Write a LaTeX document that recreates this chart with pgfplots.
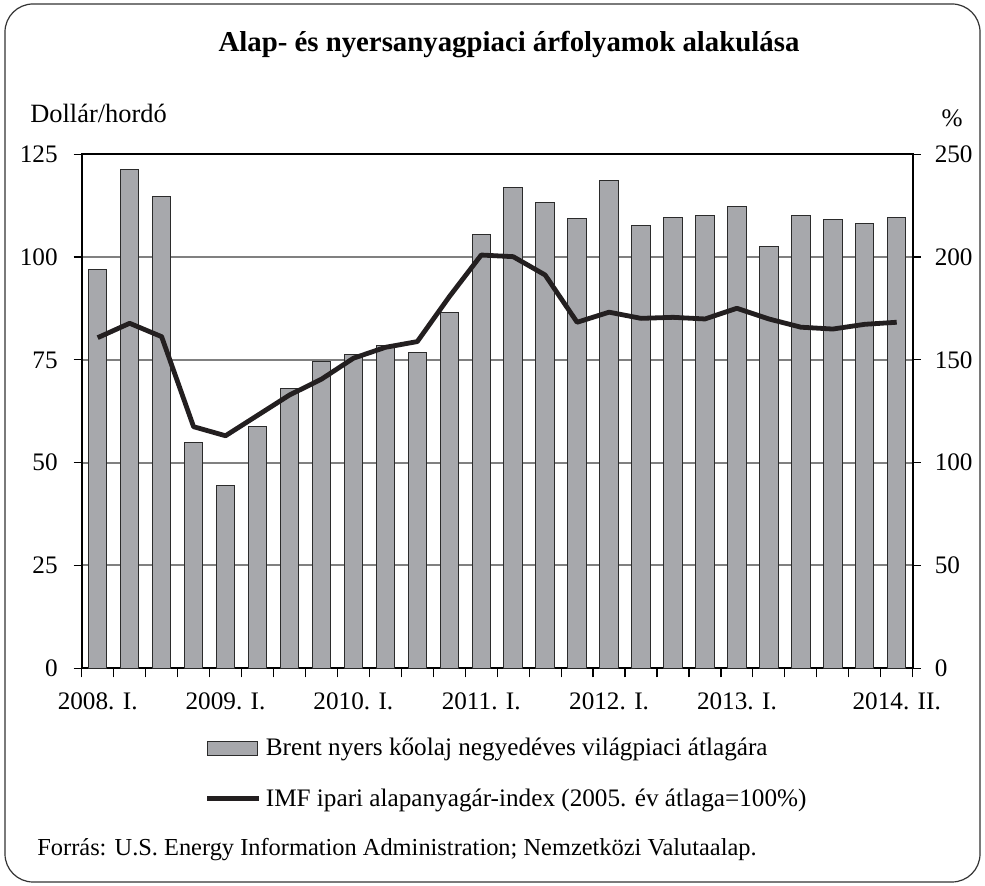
\documentclass[border=0pt]{standalone}
\usepackage{pgfplots}
\pgfplotsset{compat=1.18}
\usepackage{fontspec}
\setmainfont{Liberation Serif}
\definecolor{barfill}{HTML}{A7A8AC}
\definecolor{bardraw}{HTML}{2B2B2B}
\definecolor{linec}{HTML}{231F20}
\definecolor{gridc}{HTML}{808080}
\pgfplotsset{
  barleg/.style={legend image code/.code={\draw[##1] (0pt,-3.5pt) rectangle (25pt,3.5pt);}},
  lineleg/.style={legend image code/.code={\draw[##1] (0pt,0pt) -- (26pt,0pt);}},
}
\pgfplotstableread{
i brent imf
0 96.9 160.8
1 121.3 167.8
2 114.7 161.3
3 54.9 117.5
4 44.4 113.1
5 58.8 123.0
6 68.1 132.9
7 74.5 140.6
8 76.4 150.8
9 78.4 156.1
10 76.8 158.9
11 86.6 180.7
12 105.4 201.0
13 117.0 200.2
14 113.3 191.3
15 109.3 168.3
16 118.7 173.2
17 107.7 170.2
18 109.6 170.7
19 110.2 169.9
20 112.4 175.1
21 102.5 169.9
22 110.2 165.9
23 109.2 165.0
24 108.1 167.3
25 109.7 168.3
}\datatable
\begin{document}
\begin{tikzpicture}
\useasboundingbox (0pt,0pt) rectangle (492.5pt,443pt);
\draw[line width=0.6pt, draw=black!80, rounded corners=14pt] (2.5pt,2pt) rectangle (490pt,441pt);
\node[font=\fontsize{14.4}{16}\selectfont\bfseries] at (254.5pt,420.5pt) {Alap- és nyersanyagpiaci árfolyamok alakulása};
\node[anchor=west, font=\fontsize{13.2}{15}\selectfont, inner sep=0pt] at (15pt,386.5pt) {Dollár/hordó};
\node[anchor=center, font=\fontsize{12.6}{14}\selectfont, inner sep=0pt] at (476pt,384pt) {\%};
\node[anchor=west, font=\fontsize{12.2}{14}\selectfont, inner sep=0pt] at (18.5pt,18pt) {Forrás: U.S. Energy Information Administration; Nemzetközi Valutaalap.};
\begin{axis}[
  at={(40.85pt,108.85pt)}, anchor=south west,
  scale only axis, width=415.5pt, height=257pt,
  xmin=-0.5, xmax=25.5, ymin=0, ymax=125,
  ytick={0,25,...,125},
  ytick pos=left, xtick pos=bottom,
  xtick={0,4,8,12,16,20,25},
  xticklabels={2008. I.,2009. I.,2010. I.,2011. I.,2012. I.,2013. I.,2014. II.},
  major x tick style={draw=none},
  minor xtick={-0.5,0.5,...,25.5},
  minor tick length=4.5pt,
  major tick length=4pt,
  tick align=outside,
  tick style={black, line width=0.6pt},
  ymajorgrids, grid style={gridc, line width=1pt},
  axis line style={black, line width=1pt},
  tick label style={font=\fontsize{12.6}{14}\selectfont},
  /pgf/number format/assume math mode=true,
  xticklabel style={yshift=-4.5pt},
  yticklabel style={xshift=-4.5pt},
]
\addplot[ybar, bar width=9.2pt, fill=barfill, draw=bardraw, line width=0.5pt] table[x=i, y=brent] {\datatable};
\end{axis}
\begin{axis}[
  at={(40.85pt,108.85pt)}, anchor=south west,
  scale only axis, width=415.5pt, height=257pt,
  xmin=-0.5, xmax=25.5, ymin=0, ymax=250,
  axis x line=none, axis y line*=right,
  ytick={0,50,...,250},
  tick align=outside, major tick length=4pt,
  tick style={black, line width=0.6pt},
  axis line style={black, line width=1pt},
  tick label style={font=\fontsize{12.6}{14}\selectfont},
  yticklabel style={xshift=3.5pt},
  /pgf/number format/assume math mode=true,
  legend style={at={(0.148,-0.127)}, anchor=north west, draw=none, fill=none,
    font=\fontsize{12.6}{14}\selectfont, row sep=11pt, inner sep=0pt},
  legend cell align=left,
]
\addlegendimage{fill=barfill, draw=bardraw, line width=0.5pt, barleg}
\addlegendentry{Brent nyers kőolaj negyedéves világpiaci átlagára}
\addplot[linec, line width=2.4pt, line join=round, mark=none, lineleg] table[x=i, y=imf] {\datatable};
\addlegendentry{IMF ipari alapanyagár-index (2005. év átlaga=100\%)}
\end{axis}
\end{tikzpicture}
\end{document}
